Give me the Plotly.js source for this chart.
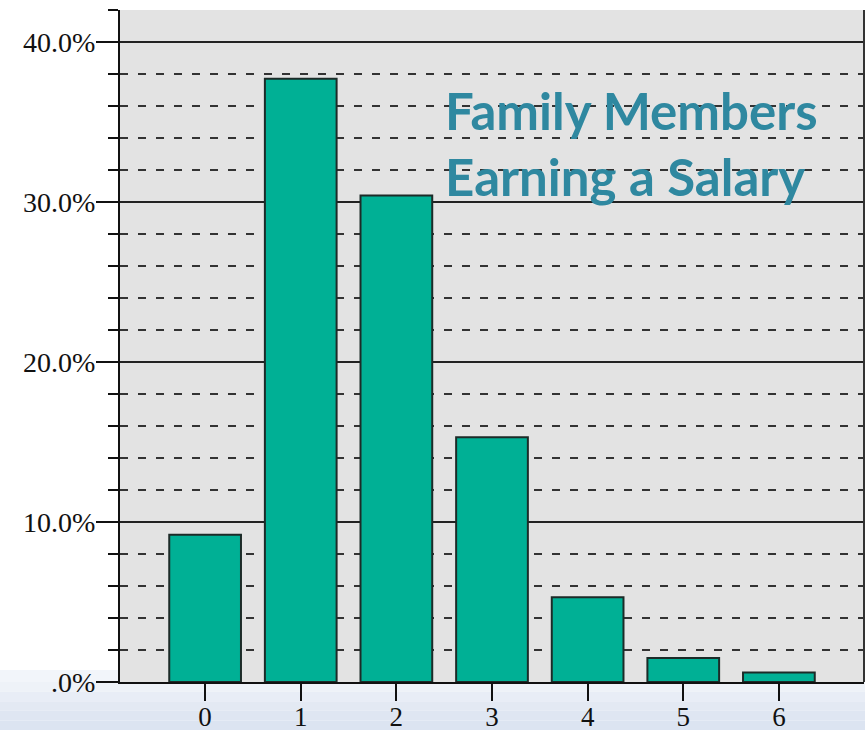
<!DOCTYPE html>
<html>
<head>
<meta charset="utf-8">
<script src="https://cdn.plot.ly/plotly-3.0.1.min.js"></script>
<style>html,body{margin:0;padding:0;background:#fff;}#chart{width:865px;height:730px;}</style>
</head>
<body>
<div id="chart"></div>
<script>
const categories = ['0', '1', '2', '3', '4', '5', '6'];
const percentages = [9.2, 37.7, 30.4, 15.3, 5.3, 1.5, 0.6];
const yTickValues = [0, 10, 20, 30, 40];
const yTickLabels = ['.0%', '10.0%', '20.0%', '30.0%', '40.0%'];
const chartTitle = 'Family Members<br>Earning a Salary';

const trace = {
  type: 'bar',
  x: categories.map(Number),
  y: percentages,
  marker: { color: '#00b095', line: { color: '#1c2b28', width: 2 } },
  width: 0.75,
  hoverinfo: 'none'
};

// light blue gradient bands under the plot (decorative background)
const bandColors = ['#eef2f8', '#e8edf6', '#e3e9f3', '#dfe6f2', '#dce4f1'];
const shapes = [];
const plotH = 672, bottomPx = 48;
for (let i = 0; i < bandColors.length; i++) {
  const y1 = -(i * bottomPx / bandColors.length) / plotH;
  const y0 = -((i + 1) * bottomPx / bandColors.length) / plotH;
  shapes.push({ type: 'rect', xref: 'paper', yref: 'paper', x0: -0.2, x1: 1.01, y0: y0, y1: y1,
    fillcolor: bandColors[i], line: { width: 0 }, layer: 'below' });
}
shapes.push({ type: 'rect', xref: 'paper', yref: 'paper', x0: -0.2, x1: 0, y0: 0, y1: 12 / plotH,
  fillcolor: '#f2f5fa', line: { width: 0 }, layer: 'below' });

const layout = {
  width: 865, height: 730,
  margin: { l: 120, r: 1, t: 10, b: 48 },
  paper_bgcolor: '#ffffff',
  plot_bgcolor: '#e3e3e3',
  showlegend: false,
  bargap: 0.25,
  font: { family: '"Liberation Serif", "DejaVu Serif", serif', color: '#111' },
  xaxis: {
    range: [-0.89, 6.89],
    tickmode: 'array',
    tickvals: categories.map(Number),
    ticktext: categories,
    ticks: 'outside', ticklen: 17, tickwidth: 2, tickcolor: '#111',
    tickfont: { size: 27, family: '"Liberation Serif", serif', color: '#111' },
    ticklabelstandoff: -7,
    showgrid: false, zeroline: false,
    showline: true, linecolor: '#111', linewidth: 2,
    mirror: false, fixedrange: true
  },
  yaxis: {
    range: [0, 42],
    tickmode: 'array',
    tickvals: yTickValues,
    ticktext: yTickLabels,
    ticks: 'outside', ticklen: 22, tickwidth: 2, tickcolor: '#111',
    tickfont: { size: 28, family: '"Liberation Serif", serif', color: '#111' },
    ticklabelstandoff: -5,
    showgrid: true, gridcolor: '#222', gridwidth: 1.5,
    zeroline: false,
    showline: true, linecolor: '#111', linewidth: 2,
    minor: {
      dtick: 2, tick0: 0,
      ticks: 'outside', ticklen: 10, tickwidth: 2, tickcolor: '#111',
      showgrid: true, gridcolor: '#333', gridwidth: 2, griddash: '8px,10px'
    },
    fixedrange: true
  },
  shapes: shapes.concat([
    { type: 'line', xref: 'paper', yref: 'paper', x0: 1, x1: 1, y0: 0, y1: 1,
      line: { color: '#333', width: 2 } }
  ]),
  annotations: [{
    text: chartTitle,
    xref: 'paper', yref: 'paper',
    x: (443 - 120) / 744, y: 1 - (78 - 10) / 672,
    xanchor: 'left', yanchor: 'top', align: 'left',
    showarrow: false,
    font: { family: 'Lato, "Open Sans", sans-serif', size: 51, color: '#2f88a0', weight: 'bold' }
  }]
};

Plotly.newPlot('chart', [trace], layout, { displayModeBar: false, staticPlot: true });
</script>
</body>
</html>
